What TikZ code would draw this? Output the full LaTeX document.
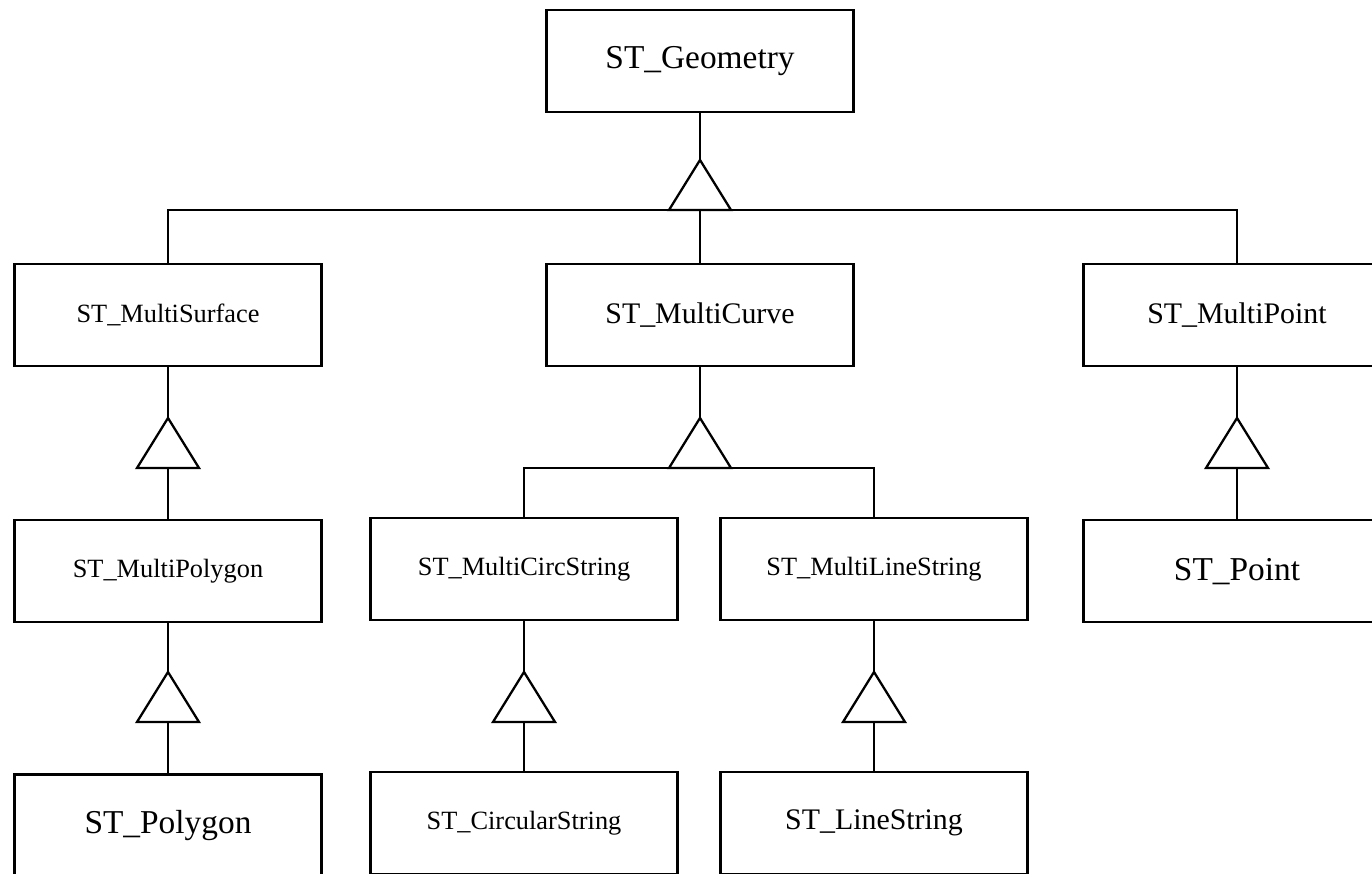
\documentclass[tikz,border=0pt]{standalone}
\usepackage{fontspec}
\setmainfont{Liberation Serif}
\usetikzlibrary{positioning}
\tikzset{every picture/.style={line width=1.3pt}}
\tikzset{
    cls/.style={draw, minimum width=6.14cm, minimum height=2.04cm, inner sep=0pt},
    lg/.style={font=\fontsize{19}{22}\selectfont},
    md/.style={font=\fontsize{17}{20}\selectfont},
    sm/.style={font=\fontsize{15}{18}\selectfont},
    pics/gen/.style={code={\draw (0,0) -- (-31,50) -- (31,50) -- cycle;}}
}

\begin{document}
\begin{tikzpicture}[x=0.02cm, y=-0.02cm]
    \useasboundingbox (0,0) rectangle (1372,874);
    \clip (0,0) rectangle (1372,874);
    % classes
    \node[cls, lg] (geo) at (700,61) {ST\_Geometry};
    \node[cls, sm] (msurf) at (168,315) {ST\_MultiSurface};
    \node[cls, md] (mcurve) at (700,315) {ST\_MultiCurve};
    \node[cls, md] (mpoint) at (1237,315) {ST\_MultiPoint};
    \node[cls, sm, below=3.04cm of msurf] (mpoly) {ST\_MultiPolygon};
    \node[cls, sm] (mcirc) at (524,569) {ST\_MultiCircString};
    \node[cls, sm] (mline) at (874,569) {ST\_MultiLineString};
    \node[cls, lg, below=3.04cm of mpoint] (point) {ST\_Point};
    \node[cls, lg, below=3.0cm of mpoly] (poly) {ST\_Polygon};
    \node[cls, sm, below=3.0cm of mcirc] (circ) {ST\_CircularString};
    \node[cls, md, below=3.0cm of mline] (line) {ST\_LineString};
    % generalisation triangles: apex (a) and base (b)
    \coordinate (a0) at (700,160);
    \coordinate (b0) at (700,210);
    \coordinate (a1) at (168,418);
    \coordinate (b1) at (168,468);
    \coordinate (a2) at (700,418);
    \coordinate (b2) at (700,468);
    \coordinate (a3) at (1237,418);
    \coordinate (b3) at (1237,468);
    \coordinate (a4) at (168,672);
    \coordinate (b4) at (168,722);
    \coordinate (a5) at (524,672);
    \coordinate (b5) at (524,722);
    \coordinate (a6) at (874,672);
    \coordinate (b6) at (874,722);
    % ST_Geometry
    \draw (geo) -- (a0);
    \pic at (a0) {gen};
    \draw (msurf) |- (b0) -| (mpoint);
    \draw (b0) -- (mcurve);
    % ST_MultiSurface
    \draw (msurf) -- (a1);
    \pic at (a1) {gen};
    \draw (b1) -- (mpoly);
    % ST_MultiCurve
    \draw (mcurve) -- (a2);
    \pic at (a2) {gen};
    \draw (mcirc) |- (b2) -| (mline);
    % ST_MultiPoint
    \draw (mpoint) -- (a3);
    \pic at (a3) {gen};
    \draw (b3) -- (point);
    % bottom row
    \draw (mpoly) -- (a4);
    \pic at (a4) {gen};
    \draw (b4) -- (poly);
    \draw (mcirc) -- (a5);
    \pic at (a5) {gen};
    \draw (b5) -- (circ);
    \draw (mline) -- (a6);
    \pic at (a6) {gen};
    \draw (b6) -- (line);
\end{tikzpicture}
\end{document}
